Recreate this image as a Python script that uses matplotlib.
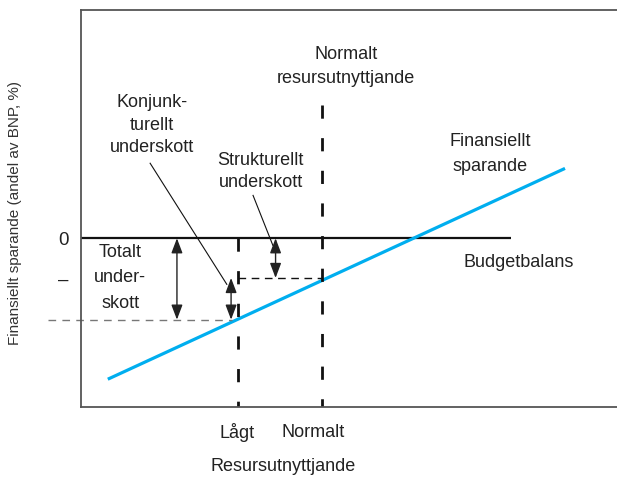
import matplotlib

matplotlib.use("Agg")
import matplotlib.pyplot as plt

plt.rcParams["font.family"] = ["Liberation Sans", "DejaVu Sans"]
plt.rcParams["lines.scale_dashes"] = False

# ---- schematic data (arbitrary units) ----
x_low = 2.93          # "Lågt" resursutnyttjande
x_norm = 4.5          # "Normalt" resursutnyttjande
y_struct = -1.0       # strukturellt underskott
y_total = -2.05       # totalt underskott vid lågt resursutnyttjande
saving_x = [0.5, 9.03]
saving_y = [-3.55, 1.76]
balance_x = [0.0, 8.02]
balance_y = [0.0, 0.0]
norm_line_top = 3.35
total_guide_start = -0.62
total_guide_end = 2.82
arrow_total_x = 1.79
arrow_konj_x = 2.80
arrow_struct_x = 3.63
leader_konj = [(1.29, 1.89), (2.72, -1.16)]
leader_struct = [(3.21, 1.08), (3.58, -0.18)]
ytick_vals = [0, y_struct]
ytick_labels = ["0", "–"]

TXT = "#222222"
BLUE = "#00AEEF"

fig = plt.figure(figsize=(6.17, 4.80), dpi=100)
ax = fig.add_axes([81 / 617, 73 / 480, 536 / 617, 397 / 480])
ax.set_xlim(0, 10)
ax.set_ylim(-4.25, 5.75)

for s in ["left", "top", "bottom"]:
    ax.spines[s].set_color("#555555")
    ax.spines[s].set_linewidth(1.3)
ax.spines["right"].set_visible(False)
ax.set_xticks([])
ax.set_yticks(ytick_vals)
ax.set_yticklabels(ytick_labels, fontsize=13.5, color=TXT)
ax.tick_params(axis="y", length=0, pad=9)

# budget balance and savings line
ax.plot(balance_x, balance_y, color="#111111", lw=1.6, solid_capstyle="butt")
ax.plot(saving_x, saving_y, color=BLUE, lw=2.3, solid_capstyle="butt")

# vertical dashed lines
ax.plot([x_low, x_low], [0, -4.25], color="#111111", lw=2.0, ls=(0, (9.5, 14)))
ax.plot([x_norm, x_norm], [norm_line_top, -4.25], color="#111111", lw=2.0, ls=(0, (9.5, 14)))

# horizontal guides
ax.plot([x_low, x_norm], [y_struct, y_struct], color="#111111", lw=1.0, ls=(0, (5.5, 4)))
ax.plot([total_guide_start, total_guide_end], [y_total, y_total], color="#777777", lw=1.0,
        ls=(0, (5.5, 4.5)), clip_on=False)

# double arrows
aprops = dict(arrowstyle="<|-|>,head_length=0.45,head_width=0.17", color="#222222", lw=1.0,
              shrinkA=0, shrinkB=0, mutation_scale=20)
ax.annotate("", xy=(arrow_total_x, y_total), xytext=(arrow_total_x, 0), arrowprops=aprops)
ax.annotate("", xy=(arrow_konj_x, y_total), xytext=(arrow_konj_x, y_struct), arrowprops=aprops)
ax.annotate("", xy=(arrow_struct_x, y_struct), xytext=(arrow_struct_x, 0), arrowprops=aprops)

# leader lines
for (x0, y0), (x1, y1) in [leader_konj, leader_struct]:
    ax.plot([x0, x1], [y0, y1], color="#111111", lw=0.8)

fs = 13
ls = 1.55
ax.text(0.73, -1.0, "Totalt\nunder-\nskott", ha="center", va="center", fontsize=fs, color=TXT, linespacing=1.65)
ax.text(1.33, 2.85, "Konjunk-\nturellt\nunderskott", ha="center", va="center", fontsize=fs, color=TXT, linespacing=1.45)
ax.text(3.35, 1.69, "Strukturellt\nunderskott", ha="center", va="center", fontsize=fs, color=TXT, linespacing=1.4)
ax.text(4.94, 4.33, "Normalt\nresursutnyttjande", ha="center", va="center", fontsize=fs, color=TXT, linespacing=ls)
ax.text(7.64, 2.12, "Finansiellt\nsparande", ha="center", va="center", fontsize=fs, color=TXT, linespacing=1.65)
ax.text(8.17, -0.6, "Budgetbalans", ha="center", va="center", fontsize=fs, color=TXT)

ax.text(x_low - 0.02, -4.89, "Lågt", ha="center", va="center", fontsize=fs, color=TXT, clip_on=False)
ax.text(4.33, -4.89, "Normalt", ha="center", va="center", fontsize=fs, color=TXT, clip_on=False)
ax.text(3.77, -5.76, "Resursutnyttjande", ha="center", va="center", fontsize=fs, color=TXT, clip_on=False)

fig.text(15 / 617, 1 - 213 / 480, "Finansiellt sparande (andel av BNP, %)", rotation=90,
         ha="center", va="center", fontsize=11, color="#333333")

fig.savefig("out.png", dpi=100)
